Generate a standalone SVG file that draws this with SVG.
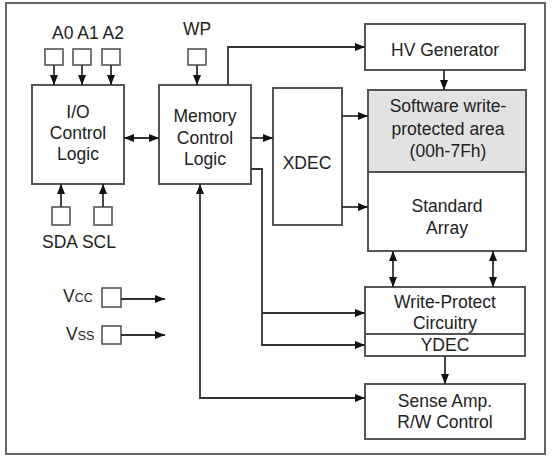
<svg xmlns="http://www.w3.org/2000/svg" width="554" height="456" viewBox="0 0 554 456">
<defs>
<style>
.box{fill:#fff;stroke:#555;stroke-width:2}
.pin{fill:#fff;stroke:#555;stroke-width:1.6}
.shaded{fill:#e2e2e2;stroke:#555;stroke-width:2}
.t{font-family:"Liberation Sans",Arial,sans-serif;font-size:17.5px;fill:#222;text-anchor:middle}
.tl{font-family:"Liberation Sans",Arial,sans-serif;font-size:17.5px;fill:#222}
.w{fill:none;stroke:#333;stroke-width:1.8}
</style>
<marker id="ah" viewBox="0 0 10 8" refX="10" refY="4" markerWidth="11" markerHeight="8" markerUnits="userSpaceOnUse" orient="auto-start-reverse">
<path d="M0,0 L10,4 L0,8 z" fill="#111"/>
</marker>
</defs>
<rect x="6" y="3" width="539" height="451" fill="#fff" stroke="#666" stroke-width="2"/>

<g id="pins">
<text class="t" x="88" y="39">A0 A1 A2</text>
<rect class="pin" x="45" y="49" width="18" height="16"/>
<rect class="pin" x="73" y="49" width="18" height="16"/>
<rect class="pin" x="102" y="49" width="18" height="16"/>
<text class="t" x="197" y="35">WP</text>
<rect class="pin" x="188" y="49" width="18" height="16"/>
<rect class="pin" x="52" y="207" width="18" height="18"/>
<rect class="pin" x="94" y="207" width="18" height="18"/>
<text class="t" x="79" y="248">SDA SCL</text>
<text class="tl" x="63" y="302">V<tspan font-size="12.5">CC</tspan></text>
<rect class="pin" x="102" y="288" width="19" height="19"/>
<text class="tl" x="66" y="340">V<tspan font-size="12.5">SS</tspan></text>
<rect class="pin" x="102" y="326" width="19" height="18"/>
</g>

<g id="io">
<rect class="box" x="32" y="85" width="92" height="99"/>
<text class="t" x="78" y="118">I/O</text>
<text class="t" x="78" y="139">Control</text>
<text class="t" x="78" y="160">Logic</text>
</g>

<g id="mem">
<rect class="box" x="159" y="85" width="92" height="99"/>
<text class="t" x="205" y="122">Memory</text>
<text class="t" x="205" y="144">Control</text>
<text class="t" x="205" y="165">Logic</text>
</g>

<g id="xdec">
<rect class="box" x="273" y="88" width="69" height="137"/>
<text class="t" x="307" y="169">XDEC</text>
</g>

<g id="hv">
<rect class="box" x="365" y="24" width="160" height="46"/>
<text class="t" x="445" y="56">HV Generator</text>
</g>

<g id="swp">
<rect class="shaded" x="368" y="90" width="158" height="82"/>
<text class="t" x="448" y="112">Software write-</text>
<text class="t" x="448" y="135">protected area</text>
<text class="t" x="448" y="157">(00h-7Fh)</text>
</g>

<g id="array">
<rect class="box" x="368" y="172" width="158" height="79"/>
<text class="t" x="447" y="212">Standard</text>
<text class="t" x="447" y="234">Array</text>
</g>

<g id="wpc">
<rect class="box" x="365" y="287" width="160" height="47"/>
<text class="t" x="445" y="308">Write-Protect</text>
<text class="t" x="445" y="329">Circuitry</text>
</g>

<g id="ydec">
<rect class="box" x="365" y="334" width="160" height="22"/>
<text class="t" x="445" y="351">YDEC</text>
</g>

<g id="sense">
<rect class="box" x="365" y="384" width="160" height="55"/>
<text class="t" x="445" y="407">Sense Amp.</text>
<text class="t" x="445" y="428">R/W Control</text>
</g>

<g id="connectors">
<line class="w" x1="54" y1="65" x2="54" y2="85" marker-end="url(#ah)"/>
<line class="w" x1="82" y1="65" x2="82" y2="85" marker-end="url(#ah)"/>
<line class="w" x1="111" y1="65" x2="111" y2="85" marker-end="url(#ah)"/>
<line class="w" x1="197" y1="65" x2="197" y2="85" marker-end="url(#ah)"/>
<line class="w" x1="61" y1="207" x2="61" y2="184" marker-end="url(#ah)"/>
<line class="w" x1="103" y1="207" x2="103" y2="184" marker-end="url(#ah)"/>
<line class="w" x1="124" y1="138" x2="159" y2="138" marker-start="url(#ah)" marker-end="url(#ah)"/>
<line class="w" x1="251" y1="138" x2="273" y2="138" marker-end="url(#ah)"/>
<polyline class="w" points="228,85 228,47 365,47" marker-end="url(#ah)"/>
<line class="w" x1="444" y1="70" x2="444" y2="90" marker-end="url(#ah)"/>
<line class="w" x1="342" y1="116" x2="368" y2="116" marker-end="url(#ah)"/>
<line class="w" x1="342" y1="207" x2="368" y2="207" marker-end="url(#ah)"/>
<line class="w" x1="393" y1="251" x2="393" y2="287" marker-start="url(#ah)" marker-end="url(#ah)"/>
<line class="w" x1="493" y1="251" x2="493" y2="287" marker-start="url(#ah)" marker-end="url(#ah)"/>
<polyline class="w" points="251,169 262,169 262,345 365,345" marker-end="url(#ah)"/>
<line class="w" x1="262" y1="313" x2="365" y2="313" marker-end="url(#ah)"/>
<line class="w" x1="445" y1="356" x2="445" y2="384" marker-end="url(#ah)"/>
<polyline class="w" points="200,184 200,398 365,398" marker-start="url(#ah)" marker-end="url(#ah)"/>
<line class="w" x1="121" y1="299" x2="165" y2="299" marker-end="url(#ah)"/>
<line class="w" x1="121" y1="335" x2="165" y2="335" marker-end="url(#ah)"/>
</g>
</svg>
